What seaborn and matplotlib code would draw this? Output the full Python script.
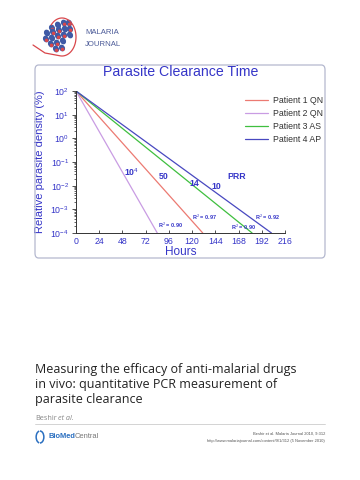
import matplotlib
matplotlib.use("Agg")
import matplotlib.pyplot as plt
from matplotlib.patches import FancyBboxPatch, Ellipse, Arc
from matplotlib.ticker import LogLocator, NullFormatter
import seaborn as sns
import pandas as pd
import numpy as np

# fitted clearance lines: start (0 h, 100 %) -> end at the 1e-4 % floor
PATIENTS = ["Patient 1 QN", "Patient 2 QN", "Patient 3 AS", "Patient 4 AP"]
COLORS = ["#ec7a72", "#c99ce3", "#3fbf3f", "#4848c0"]
START_HOURS = [0, 0, 0, 0]
START_DENSITY = [100, 100, 100, 100]
END_HOURS = [131, 84, 182, 202]
END_DENSITY = [1e-4, 1e-4, 1e-4, 1e-4]

# PRR labels and R^2 annotations (hours, density)
PRR_TEXT = ["10$^4$", "50", "14", "10", "PRR"]
PRR_X = [57, 91, 122, 145, 166]
PRR_Y = [10 ** -1.42, 10 ** -1.62, 10 ** -1.90, 10 ** -2.05, 10 ** -1.62]
R2_TEXT = ["R$^2$ = 0.90", "R$^2$ = 0.97", "R$^2$ = 0.90", "R$^2$ = 0.92"]
R2_X = [98, 133, 173, 198]
R2_Y = [10 ** -3.66, 10 ** -3.32, 10 ** -3.75, 10 ** -3.32]

XTICKS = [0, 24, 48, 72, 96, 120, 144, 168, 192, 216]
YTICKS = [1e2, 1e1, 1e0, 1e-1, 1e-2, 1e-3, 1e-4]
YTICK_LABELS = ["10$^2$", "10$^1$", "10$^0$", "10$^{-1}$", "10$^{-2}$", "10$^{-3}$", "10$^{-4}$"]

BLUE = "#3535c8"
W, H = 360, 480

sns.set_theme(style="ticks")
plt.rcParams["font.family"] = ["Liberation Sans", "DejaVu Sans"]
plt.rcParams["mathtext.fontset"] = "custom"
plt.rcParams["mathtext.rm"] = "Liberation Sans"
plt.rcParams["mathtext.bf"] = "Liberation Sans:bold"

fig = plt.figure(figsize=(W / 100, H / 100), dpi=100)
fig.patch.set_facecolor("white")


def fx(px):
    return px / W


def fy(py):
    return 1 - py / H


# chart frame
frame = FancyBboxPatch((fx(35), fy(258)), fx(325) - fx(35), fy(65) - fy(258),
                       boxstyle="round,pad=0,rounding_size=0.01",
                       transform=fig.transFigure, facecolor="none",
                       edgecolor="#b4b8cf", linewidth=0.9)
fig.patches.append(frame)

ax = fig.add_axes([fx(76), fy(233), fx(285) - fx(76), fy(91) - fy(233)])
ax.set_facecolor("none")

rows = []
for name, x0, y0, x1, y1 in zip(PATIENTS, START_HOURS, START_DENSITY, END_HOURS, END_DENSITY):
    rows.append({"patient": name, "hours": x0, "density": y0})
    rows.append({"patient": name, "hours": x1, "density": y1})
df = pd.DataFrame(rows)

sns.lineplot(data=df, x="hours", y="density", hue="patient", hue_order=PATIENTS,
             palette=COLORS, linewidth=0.9, ax=ax, legend=True)

ax.set_yscale("log")
ax.set_xlim(0, 216)
ax.set_ylim(1e-4, 1e2)
ax.set_xticks(XTICKS)
ax.set_xticklabels([str(t) for t in XTICKS])
ax.set_yticks(YTICKS)
ax.set_yticklabels(YTICK_LABELS)
ax.yaxis.set_minor_locator(LogLocator(base=10, subs=np.arange(2, 10), numticks=20))
ax.yaxis.set_minor_formatter(NullFormatter())
ax.tick_params(axis="both", labelsize=6.3, colors="#333333", labelcolor=BLUE,
               width=0.6, pad=2)
ax.tick_params(axis="y", which="major", direction="out", length=3)
ax.tick_params(axis="y", which="minor", direction="out", length=1.6, width=0.5)
ax.tick_params(axis="x", which="major", direction="in", length=2.5, pad=3)
for side in ["top", "right"]:
    ax.spines[side].set_visible(False)
for side in ["left", "bottom"]:
    ax.spines[side].set_color("#333333")
    ax.spines[side].set_linewidth(0.7)
ax.set_xlabel("Hours", fontsize=8.5, color=BLUE, labelpad=0)
ax.set_ylabel("Relative parasite density (%)", fontsize=8.0, color=BLUE, labelpad=4)

for t, x, y in zip(PRR_TEXT, PRR_X, PRR_Y):
    ax.text(x, y, t, fontsize=6.3, fontweight="bold", color=BLUE, ha="center", va="center")
for t, x, y in zip(R2_TEXT, R2_X, R2_Y):
    ax.text(x, y, t, fontsize=4, fontweight="bold", color=BLUE, ha="center", va="center")

leg = ax.legend(loc="upper left", bbox_to_anchor=(fx(245), fy(96)),
                bbox_transform=fig.transFigure, frameon=False, fontsize=6.3,
                handlelength=2.6, handletextpad=0.6, labelspacing=0.45,
                borderaxespad=0, borderpad=0)
for txt in leg.get_texts():
    txt.set_color("#333333")

fig.text(fx(181), fy(72), "Parasite Clearance Time", fontsize=10.2, color=BLUE,
         ha="center", va="center")

# journal header
fig.text(fx(85), fy(32), "MALARIA", fontsize=5.6, color="#4d5c99", va="center")
fig.text(fx(85), fy(44), "JOURNAL", fontsize=5.6, color="#4d5c99", va="center")
logo = fig.add_axes([fx(30), fy(60), fx(80) - fx(30), fy(17) - fy(60)])
logo.set_xlim(30, 80)
logo.set_ylim(60, 17)
logo.axis("off")
# red loop: left tail -> bottom -> right side -> top
tt = np.linspace(-0.55 * np.pi, 0.78 * np.pi, 80)
loop_x = 62 + 14 * np.cos(tt)
loop_y = 37 - 19 * np.sin(tt)
logo.plot(np.r_[33, 45, loop_x], np.r_[45, 53, loop_y], color="#d9474b", lw=0.9)
cells = [(52, 28), (58, 25), (64, 23), (69, 23), (47, 33), (53, 32), (59, 30), (65, 29),
         (70, 29), (46, 39), (52, 38), (58, 36), (64, 35), (70, 35), (51, 44), (57, 43),
         (63, 41), (56, 49), (62, 48)]
for i, (cx, cy) in enumerate(cells):
    logo.add_patch(Ellipse((cx, cy), 4.4, 5.6, angle=-30, color="#3f5aa6"))
    if i % 3 != 1:
        logo.add_patch(Ellipse((cx + 0.6, cy + 1.4), 2.2, 2.2, color="#d9474b"))

# article title and byline
title_lines = ["Measuring the efficacy of anti-malarial drugs",
               "in vivo: quantitative PCR measurement of",
               "parasite clearance"]
for i, line in enumerate(title_lines):
    fig.text(fx(35), fy(370 + 14.8 * i), line, fontsize=9.0, color="#222222",
             family=["Open Sans", "DejaVu Sans"], va="center")
fig.text(fx(35), fy(418), "Beshir", fontsize=5.2, color="#888888", va="center",
         family=["Open Sans", "DejaVu Sans"])
fig.text(fx(58), fy(418), "et al.", fontsize=5.2, color="#888888", va="center",
         style="italic", family=["Open Sans", "DejaVu Sans"])
fig.add_artist(plt.Line2D([fx(35), fx(325)], [fy(424), fy(424)], color="#cccccc", lw=0.6))

# publisher footer
fig.patches.append(Arc((fx(40), fy(437)), fx(14) * 0.55, fy(0) - fy(12), theta1=-90, theta2=90,
                       transform=fig.transFigure, color="#2a6fc0", lw=1.1))
fig.patches.append(Arc((fx(40), fy(437)), fx(14) * 0.55, fy(0) - fy(12), theta1=100, theta2=260,
                       transform=fig.transFigure, color="#2a6fc0", lw=1.1))
fig.text(fx(49), fy(437), "BioMed", fontsize=5.4, fontweight="bold", color="#2a6fc0", va="center")
fig.text(fx(75), fy(437), "Central", fontsize=5.4, color="#777777", va="center")
fig.text(fx(325), fy(434), "Beshir et al. Malaria Journal 2010, 9:312", fontsize=2.9,
         color="#555555", ha="right", va="center")
fig.text(fx(325), fy(441), "http://www.malariajournal.com/content/9/1/312 (5 November 2010)",
         fontsize=2.9, color="#555555", ha="right", va="center")

fig.savefig("out.png", dpi=100)
